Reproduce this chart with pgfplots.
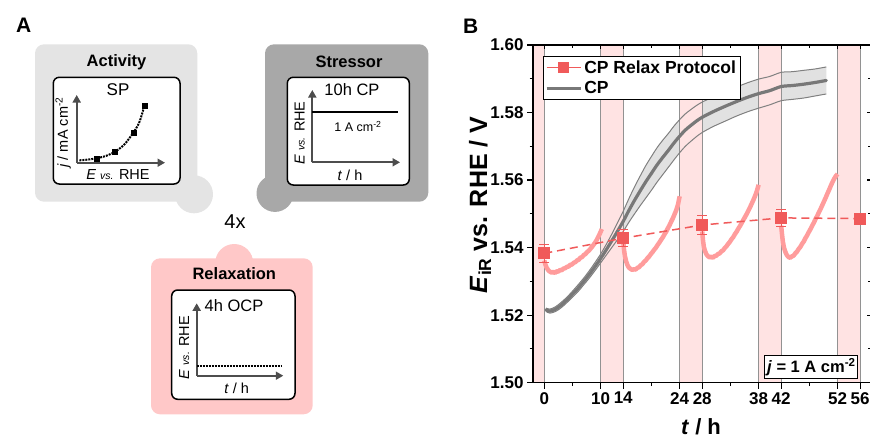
\documentclass[border=0pt]{standalone}
\usepackage{pgfplots}
\pgfplotsset{compat=1.18}
\usepackage{pgfplotstable}
\usepgfplotslibrary{fillbetween}
\usetikzlibrary{arrows.meta}
\usepackage{fontspec}
\setmainfont{Liberation Sans}
\definecolor{actgray}{HTML}{E4E4E4}
\definecolor{strgray}{HTML}{A8A8A8}
\definecolor{relpink}{HTML}{FFC8C8}
\definecolor{arrowgray}{HTML}{4D4D4D}
\definecolor{bandpink}{HTML}{FFE3E3}
\definecolor{vline}{HTML}{929292}
\definecolor{trace}{HTML}{FF9C9C}
\definecolor{relax}{HTML}{F05A5A}
\definecolor{cpmean}{HTML}{787878}
\definecolor{cpedge}{HTML}{808080}
\definecolor{cpfill}{HTML}{BDBDBD}

\pgfplotstableread{
t m h
0.3 1.5216 0.0005
1 1.5212 0.0006
2 1.5218 0.0007
3 1.5230 0.0008
4 1.5245 0.0008
5 1.5262 0.0009
6 1.5280 0.0010
7 1.5300 0.0010
8 1.5321 0.0011
9 1.5344 0.0012
10 1.5368 0.0013
11 1.5394 0.0016
12 1.5421 0.0020
13 1.5449 0.0025
14 1.5478 0.0030
15 1.5510 0.0035
16 1.5540 0.0040
17 1.5568 0.0044
18 1.5595 0.0048
19 1.5620 0.0050
20 1.5645 0.0051
21 1.5667 0.0051
22 1.5688 0.0050
23 1.5710 0.0050
24 1.5730 0.0049
25 1.5748 0.0048
26 1.5762 0.0047
27 1.5775 0.0046
28 1.5786 0.0045
30 1.5803 0.0044
32 1.5818 0.0044
34 1.5832 0.0043
36 1.5845 0.0043
38 1.5856 0.0043
40 1.5865 0.0042
42 1.5877 0.0042
44 1.5880 0.0041
46 1.5884 0.0041
48 1.5889 0.0040
50 1.5895 0.0040
}\cpdata

\pgfplotstableread{
t E err
0 1.5383 0.0027
14 1.5428 0.0025
28 1.5467 0.0028
42 1.5488 0.0025
56 1.5486 0.0010
}\relaxdata

\pgfplotsset{
  schem/.style={scale only axis, axis lines=left, enlargelimits=false,
    axis line style={draw=arrowgray, line width=1.8pt, -{Triangle[length=7.5pt,width=8pt]}},
    ticks=none, xmin=0, xmax=1, ymin=0, ymax=1, clip=false, anchor=south west},
  mainax/.style={scale only axis, width=338.4pt, height=337.7pt,
    at={(533pt,-45pt)}, anchor=north west,
    xmin=-2, xmax=58, ymin=1.50, ymax=1.60,
    xtick={0,10,14,24,28,38,42,52,56}, minor xtick={5,19,33,47},
    ytick={1.50,1.52,1.54,1.56,1.58,1.60}, minor ytick={1.51,1.53,1.55,1.57,1.59},
    axis line style={line width=1.3pt, black},
    major tick style={line width=1.2pt, black}, minor tick style={line width=1.1pt, black},
    major tick length=6pt, minor tick length=3.5pt}
}

\begin{document}
\begin{tikzpicture}
% ---------------- Panel A ----------------
\begin{scope}[x=1pt,y=-1pt]
\node[font=\bfseries\fontsize{21}{22}\selectfont] at (23.7,25) {A};
\node[font=\bfseries\fontsize{21}{22}\selectfont] at (470.8,25.8) {B};
% Activity box
\fill[actgray, rounded corners=9pt] (35,44.3) rectangle (197.3,201.7);
\fill[actgray] (194,194.3) circle (19);
% Stressor box
\fill[strgray, rounded corners=9pt] (265,44.3) rectangle (428.3,201.7);
\fill[strgray] (275,193.4) circle (18.5);
% Relaxation box
\fill[relpink, rounded corners=9pt] (151,258.3) rectangle (312.7,414.3);
\fill[relpink] (234.2,263) circle (19);
% titles
\node[font=\bfseries\fontsize{16.5}{18}\selectfont] at (116.5,62) {Activity};
\node[font=\bfseries\fontsize{16.5}{18}\selectfont] at (349,62) {Stressor};
\node[font=\bfseries\fontsize{16.5}{18}\selectfont] at (234.3,273.3) {Relaxation};
\node[font=\fontsize{20}{22}\selectfont] at (235,221.7) {4x};
% inner boxes
\draw[fill=white, draw=black, line width=1.5pt, rounded corners=6pt] (53.3,77.3) rectangle (180,184);
\draw[fill=white, draw=black, line width=1.5pt, rounded corners=6pt] (287.3,77.3) rectangle (409.3,185);
\draw[fill=white, draw=black, line width=1.5pt, rounded corners=6pt] (171.7,290) rectangle (295,399.3);
% inner texts
\node[font=\fontsize{17}{18}\selectfont] at (118,90) {SP};
\node[font=\fontsize{16.5}{18}\selectfont] at (352,90) {10h CP};
\node[font=\fontsize{12.5}{14}\selectfont] at (358,126.7) {1 A cm\textsuperscript{-2}};
\node[font=\fontsize{16.5}{18}\selectfont] at (234,306) {4h OCP};
\node[font=\fontsize{14.5}{16}\selectfont, rotate=90] at (63.3,132.5) {\textit{j} / mA cm\textsuperscript{-2}};
\node[font=\fontsize{14.5}{16}\selectfont] at (118,174.5) {\textit{E} {\fontsize{10.5}{12}\selectfont\textit{vs.}} RHE};
\node[font=\fontsize{14.5}{16}\selectfont, rotate=90] at (299.7,133) {\textit{E} {\fontsize{10.5}{12}\selectfont\textit{vs.}} RHE};
\node[font=\fontsize{14.5}{16}\selectfont] at (350,175) {\textit{t} / h};
\node[font=\fontsize{14.5}{16}\selectfont, rotate=90] at (184.3,347.5) {\textit{E} {\fontsize{10.5}{12}\selectfont\textit{vs.}} RHE};
\node[font=\fontsize{14.5}{16}\selectfont] at (236.7,388) {\textit{t} / h};
% main axis labels (outside the clipped axis)
\node[rotate=90, font=\bfseries\fontsize{25}{26}\selectfont] at (480,205) {\textit{E}\textsubscript{iR} vs. RHE / V};
\node[font=\bfseries\fontsize{22}{23}\selectfont, anchor=base, inner sep=1pt] at (701,434) {\textit{t} / h};
\end{scope}

% schematic SP axis
\begin{axis}[schem, at={(76.7pt,-162.7pt)}, width=88.3pt, height=67.7pt]
\addplot[black, line width=2pt, densely dotted, smooth] coordinates {(0.03,0.035) (0.12,0.045) (0.226,0.065) (0.33,0.10) (0.434,0.162) (0.54,0.27) (0.641,0.443) (0.71,0.60) (0.766,0.838)};
\addplot[only marks, mark=square*, mark size=2.5pt, black] coordinates {(0.226,0.065) (0.434,0.162) (0.641,0.443) (0.766,0.838)};
\end{axis}
% schematic CP axis
\begin{axis}[schem, at={(312.3pt,-162.3pt)}, width=87.7pt, height=72.3pt]
\addplot[black, line width=2pt] coordinates {(0,0.70) (0.98,0.70)};
\end{axis}
% schematic OCP axis
\begin{axis}[schem, at={(196.7pt,-375.7pt)}, width=86.6pt, height=72.4pt]
\addplot[black, line width=2pt, densely dotted] coordinates {(0,0.134) (0.99,0.134)};
\end{axis}

% ---------------- Panel B ----------------
\begin{axis}[mainax, tick pos=left, tick align=outside,
  /pgf/number format/assume math mode=true,
  tick label style={font=\bfseries\fontsize{17}{18}\selectfont},
  yticklabel style={/pgf/number format/.cd, fixed, fixed zerofill, precision=2},
  legend style={at={(rel axis cs:0.0287,0.967)}, anchor=north west, draw=black, line width=0.8pt,
    font=\bfseries\fontsize{17.5}{19}\selectfont, inner sep=2pt, row sep=3pt, legend cell align=left},
  legend image code/.code={\draw[mark repeat=2,mark phase=2,#1] plot coordinates {(0pt,0pt)(17pt,0pt)(34pt,0pt)};}
]
\addlegendimage{relax, line width=1.2pt, mark=square*, mark size=5pt}
\addlegendentry{CP Relax Protocol}
\addlegendimage{cpmean, line width=3.2pt}
\addlegendentry{CP}
% pink relaxation bands
\addplot[fill=bandpink, draw=none, forget plot] coordinates {(-2,1.5) (-2,1.6) (0,1.6) (0,1.5)} -- cycle;
\addplot[fill=bandpink, draw=none, forget plot] coordinates {(10,1.5) (10,1.6) (14,1.6) (14,1.5)} -- cycle;
\addplot[fill=bandpink, draw=none, forget plot] coordinates {(24,1.5) (24,1.6) (28,1.6) (28,1.5)} -- cycle;
\addplot[fill=bandpink, draw=none, forget plot] coordinates {(38,1.5) (38,1.6) (42,1.6) (42,1.5)} -- cycle;
\addplot[fill=bandpink, draw=none, forget plot] coordinates {(52,1.5) (52,1.6) (56,1.6) (56,1.5)} -- cycle;
% vertical lines
\addplot[vline, line width=1pt, forget plot] coordinates {(0,1.5) (0,1.6)};
\addplot[vline, line width=1pt, forget plot] coordinates {(10,1.5) (10,1.6)};
\addplot[vline, line width=1pt, forget plot] coordinates {(14,1.5) (14,1.6)};
\addplot[vline, line width=1pt, forget plot] coordinates {(24,1.5) (24,1.6)};
\addplot[vline, line width=1pt, forget plot] coordinates {(28,1.5) (28,1.6)};
\addplot[vline, line width=1pt, forget plot] coordinates {(38,1.5) (38,1.6)};
\addplot[vline, line width=1pt, forget plot] coordinates {(42,1.5) (42,1.6)};
\addplot[vline, line width=1pt, forget plot] coordinates {(52,1.5) (52,1.6)};
\addplot[vline, line width=1pt, forget plot] coordinates {(56,1.5) (56,1.6)};
% relax protocol potential traces
\addplot[trace, line width=4.5pt, line join=round, forget plot] coordinates {
(0.0,1.5362) (0.2,1.5350) (0.4,1.5341) (0.6,1.5336) (0.8,1.5331) (1.0,1.5329) (1.3,1.5326) (1.6,1.5328) (1.9,1.5325) (2.2,1.5330) (2.5,1.5329) (2.8,1.5334) (3.1,1.5333) (3.4,1.5338) (3.7,1.5339) (4.0,1.5343) (4.3,1.5344) (4.6,1.5349) (4.9,1.5350) (5.2,1.5355) (5.5,1.5357) (5.8,1.5362) (6.1,1.5364) (6.4,1.5370) (6.7,1.5372) (7.0,1.5378) (7.3,1.5381) (7.6,1.5387) (7.9,1.5391) (8.2,1.5397) (8.5,1.5403) (8.8,1.5410) (9.1,1.5417) (9.4,1.5426) (9.7,1.5436) (10.0,1.5447) (10.2,1.5455)};
\addplot[trace, line width=4.5pt, line join=round, forget plot] coordinates {
(14.0,1.5418) (14.15,1.5392) (14.3,1.5375) (14.5,1.5360) (14.75,1.5348) (15.0,1.5341) (15.3,1.5337) (15.6,1.5334) (15.9,1.5336) (16.2,1.5335) (16.5,1.5340) (16.8,1.5342) (17.1,1.5348) (17.4,1.5351) (17.7,1.5358) (18.0,1.5362) (18.3,1.5369) (18.6,1.5374) (18.9,1.5381) (19.2,1.5387) (19.5,1.5394) (19.8,1.5400) (20.1,1.5408) (20.4,1.5415) (20.7,1.5423) (21.0,1.5430) (21.3,1.5439) (21.6,1.5447) (21.9,1.5457) (22.2,1.5466) (22.5,1.5477) (22.8,1.5487) (23.1,1.5499) (23.4,1.5511) (23.7,1.5527) (24.0,1.5552)};
\addplot[trace, line width=4.5pt, line join=round, forget plot] coordinates {
(28.0,1.5448) (28.15,1.5420) (28.3,1.5402) (28.5,1.5390) (28.75,1.5380) (29.0,1.5375) (29.3,1.5371) (29.6,1.5373) (29.9,1.5370) (30.2,1.5375) (30.5,1.5376) (30.8,1.5381) (31.1,1.5383) (31.4,1.5389) (31.7,1.5392) (32.0,1.5399) (32.3,1.5404) (32.6,1.5411) (32.9,1.5417) (33.2,1.5425) (33.5,1.5431) (33.8,1.5440) (34.1,1.5447) (34.4,1.5456) (34.7,1.5464) (35.0,1.5473) (35.3,1.5482) (35.6,1.5491) (35.9,1.5500) (36.2,1.5510) (36.5,1.5520) (36.8,1.5531) (37.1,1.5542) (37.4,1.5554) (37.7,1.5568) (38.0,1.5586)};
\addplot[trace, line width=4.5pt, line join=round, forget plot] coordinates {
(42.0,1.5465) (42.15,1.5440) (42.3,1.5418) (42.5,1.5400) (42.75,1.5387) (43.0,1.5378) (43.3,1.5372) (43.6,1.5370) (43.9,1.5374) (44.2,1.5376) (44.5,1.5383) (44.8,1.5388) (45.1,1.5396) (45.4,1.5402) (45.7,1.5411) (46.0,1.5418) (46.3,1.5428) (46.6,1.5436) (46.9,1.5446) (47.2,1.5455) (47.5,1.5465) (47.8,1.5474) (48.1,1.5485) (48.4,1.5494) (48.7,1.5505) (49.0,1.5515) (49.3,1.5526) (49.6,1.5537) (49.9,1.5548) (50.2,1.5560) (50.5,1.5571) (50.8,1.5583) (51.1,1.5594) (51.4,1.5604) (51.7,1.5612) (52.0,1.5618)};
% CP band
\addplot[name path=cpup, draw=none, forget plot] table[x=t, y expr=\thisrow{m}+\thisrow{h}] {\cpdata};
\addplot[name path=cplo, draw=none, forget plot] table[x=t, y expr=\thisrow{m}-\thisrow{h}] {\cpdata};
\addplot[fill=cpfill, fill opacity=0.45, draw=none, forget plot] fill between[of=cpup and cplo];
\addplot[cpedge, line width=1pt, smooth, forget plot] table[x=t, y expr=\thisrow{m}+\thisrow{h}] {\cpdata};
\addplot[cpedge, line width=1pt, smooth, forget plot] table[x=t, y expr=\thisrow{m}-\thisrow{h}] {\cpdata};
\addplot[cpmean, line width=3.2pt, line cap=round, smooth, forget plot] table[x=t, y=m] {\cpdata};
% relax protocol points
\addplot[relax, line width=1.5pt, dash pattern=on 8pt off 5pt, mark=square*, mark size=5.3pt,
  mark options={solid}, forget plot,
  error bars/.cd, y dir=both, y explicit, error bar style={line width=1.3pt, solid}, error mark options={rotate=90, mark size=5pt, line width=1.3pt}]
  table[x=t, y=E, y error=err] {\relaxdata};
% j box
\node[draw=black, line width=0.8pt, fill=white, anchor=south east, inner sep=2.2pt,
  font=\bfseries\fontsize{16.5}{17}\selectfont] at (rel axis cs:0.961,0.013) {\textit{j} = 1 A cm\textsuperscript{-2}};
\end{axis}
% mirror ticks top/right
\begin{axis}[mainax, tick pos=right, tick align=inside, xticklabels={}, yticklabels={},
  major tick length=4pt, minor tick length=3pt]
\end{axis}
\pgfresetboundingbox
\path (0pt,0pt) rectangle (870pt,-439pt);
\end{tikzpicture}
\end{document}
